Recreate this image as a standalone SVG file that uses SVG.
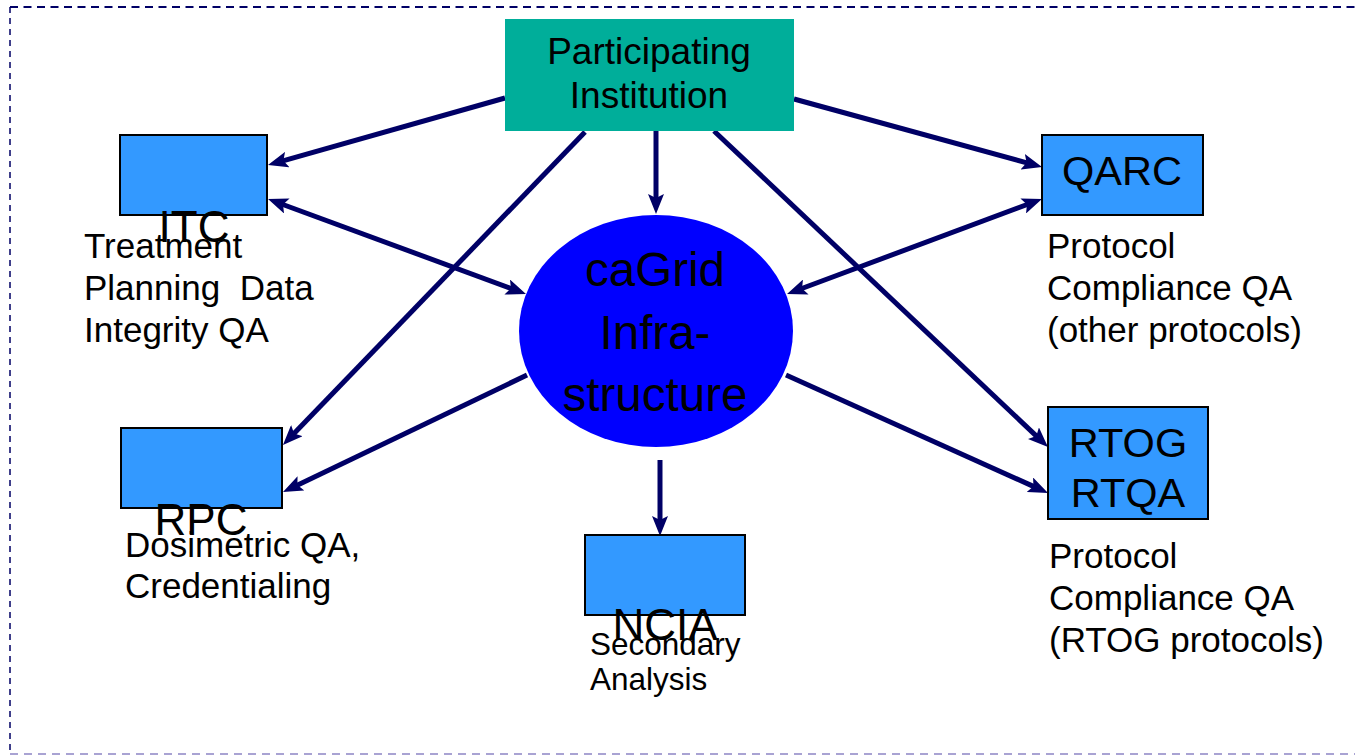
<svg xmlns="http://www.w3.org/2000/svg" width="1355" height="755" viewBox="0 0 1355 755">
<style>
.t{font-family:"Liberation Sans",Arial,sans-serif;fill:#000}
.box{fill:#3399ff;stroke:#000;stroke-width:2}
.c{stroke:#000066;stroke-width:5;fill:none;marker-end:url(#ah)}
.d{marker-start:url(#ah)}
.lbl{font-size:41.5px;text-anchor:middle}
.ulbl{font-size:44px;text-anchor:middle}
.desc{font-size:35px}
</style>
<defs>
<marker id="ah" markerUnits="userSpaceOnUse" viewBox="0 0 20 16" markerWidth="20" markerHeight="16" refX="10" refY="8" orient="auto-start-reverse">
<path d="M0,0 L20,8 L0,16 L4,8 z" fill="#000066"/>
</marker>
</defs>
<rect width="1355" height="755" fill="#fff"/>
<g id="frame" fill="none">
<line x1="10" y1="7" x2="1355" y2="7" stroke="#000066" stroke-width="2" stroke-dasharray="8 5.5"/>
<line x1="10" y1="7" x2="10" y2="755" stroke="#000066" stroke-width="1.5" stroke-dasharray="6 5"/>
<line x1="10" y1="754" x2="1355" y2="754" stroke="#a9a3d3" stroke-width="2" stroke-dasharray="8 6"/>
</g>
<g id="connectors">
<line class="c" x1="505" y1="98" x2="277.6" y2="162.3"/>
<line class="c" x1="656" y1="131" x2="656" y2="204"/>
<line class="c" x1="794" y1="99" x2="1032.4" y2="164.4"/>
<line class="c" x1="585" y1="132" x2="289.9" y2="437.8"/>
<line class="c" x1="714" y1="131" x2="1040.7" y2="440.1"/>
<line class="c d" x1="277.4" y1="202.5" x2="516.6" y2="290.5"/>
<line class="c d" x1="1032.6" y1="202.5" x2="796.4" y2="290.5"/>
<line class="c" x1="527" y1="375" x2="292" y2="487.7"/>
<line class="c" x1="786" y1="375" x2="1038.9" y2="488.9"/>
<line class="c" x1="660" y1="460" x2="660" y2="526"/>
</g>
<g id="participating">
<rect x="505" y="19" width="289" height="112" fill="#00ae9a"/>
<text class="t" x="649" y="64" font-size="37" text-anchor="middle">Participating</text>
<text class="t" x="649" y="108" font-size="37" text-anchor="middle">Institution</text>
</g>
<g id="cagrid">
<ellipse cx="656" cy="331" rx="137" ry="116" fill="#0000ff"/>
<text class="t" x="655" y="286" font-size="47.5" text-anchor="middle">caGrid</text>
<text class="t" x="655" y="349" font-size="47.5" text-anchor="middle">Infra-</text>
<text class="t" x="655" y="411" font-size="47.5" text-anchor="middle">structure</text>
</g>
<g id="itc">
<rect class="box" x="120" y="135" width="147" height="80"/>
<text class="t ulbl" x="194" y="242">ITC</text>
<text class="t desc" x="84" y="258">Treatment</text>
<text class="t desc" x="84" y="300" xml:space="preserve">Planning  Data</text>
<text class="t desc" x="84" y="342">Integrity QA</text>
</g>
<g id="rpc">
<rect class="box" x="121" y="428" width="161" height="80"/>
<text class="t ulbl" x="201" y="535">RPC</text>
<text class="t desc" x="125" y="557">Dosimetric QA,</text>
<text class="t desc" x="125" y="598">Credentialing</text>
</g>
<g id="ncia">
<rect class="box" x="585" y="535" width="160" height="80"/>
<text class="t ulbl" x="665" y="640">NCIA</text>
<text class="t" x="590" y="655" font-size="31.5">Secondary</text>
<text class="t" x="590" y="690" font-size="31.5">Analysis</text>
</g>
<g id="qarc">
<rect class="box" x="1042" y="135" width="161" height="80"/>
<text class="t lbl" x="1122" y="185">QARC</text>
<text class="t desc" x="1047" y="258">Protocol</text>
<text class="t desc" x="1047" y="300">Compliance QA</text>
<text class="t desc" x="1047" y="342">(other protocols)</text>
</g>
<g id="rtog">
<rect class="box" x="1048" y="407" width="160" height="112"/>
<text class="t lbl" x="1128" y="457">RTOG</text>
<text class="t lbl" x="1128" y="507">RTQA</text>
<text class="t desc" x="1049" y="568">Protocol</text>
<text class="t desc" x="1049" y="610">Compliance QA</text>
<text class="t desc" x="1049" y="652">(RTOG protocols)</text>
</g>
</svg>
